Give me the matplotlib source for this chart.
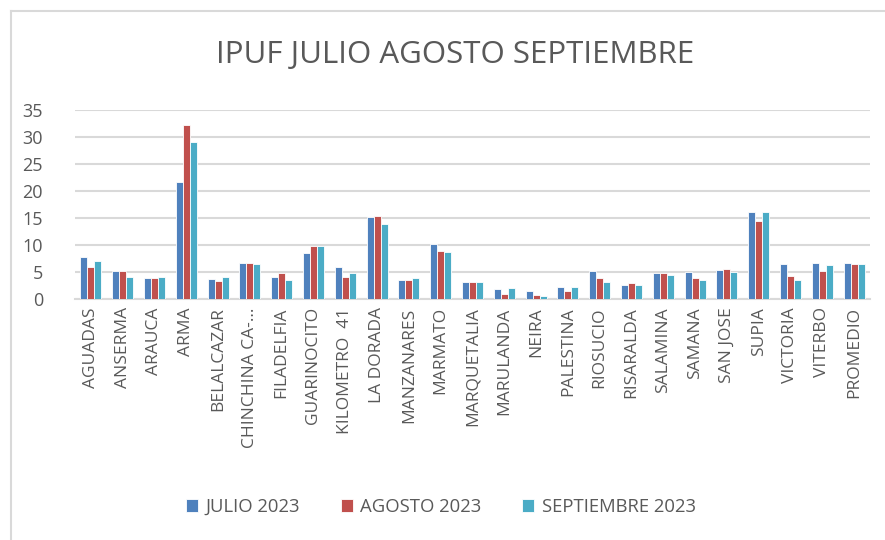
import matplotlib
matplotlib.use("Agg")
import matplotlib.pyplot as plt
import numpy as np
from matplotlib.lines import Line2D

categories = ["AGUADAS", "ANSERMA", "ARAUCA", "ARMA", "BELALCAZAR", "CHINCHINA CA-…",
              "FILADELFIA", "GUARINOCITO", "KILOMETRO  41", "LA DORADA", "MANZANARES",
              "MARMATO", "MARQUETALIA", "MARULANDA", "NEIRA", "PALESTINA", "RIOSUCIO",
              "RISARALDA", "SALAMINA", "SAMANA", "SAN JOSE", "SUPIA", "VICTORIA",
              "VITERBO", "PROMEDIO"]
julio = [7.8, 5.2, 3.8, 21.7, 3.7, 6.7, 4.1, 8.6, 5.9, 15.2, 3.5, 10.1, 3.2, 1.8, 1.4,
         2.3, 5.2, 2.6, 4.9, 5.0, 5.4, 16.2, 6.5, 6.7, 6.6]
agosto = [6.0, 5.2, 3.8, 32.2, 3.3, 6.7, 4.8, 9.8, 4.1, 15.4, 3.5, 8.8, 3.1, 0.9, 0.7,
          1.5, 3.9, 3.0, 4.8, 3.9, 5.6, 14.5, 4.3, 5.1, 6.5]
septiembre = [7.0, 4.1, 4.1, 29.1, 4.0, 6.5, 3.6, 9.9, 4.8, 13.9, 3.8, 8.7, 3.2, 2.0, 0.6,
              2.3, 3.2, 2.6, 4.4, 3.6, 5.0, 16.1, 3.6, 6.3, 6.4]
series_names = ["JULIO 2023", "AGOSTO 2023", "SEPTIEMBRE 2023"]
colors = ["#4F81BD", "#C0504D", "#4BACC6"]
yticks = [0, 5, 10, 15, 20, 25, 30, 35]

plt.rcParams['font.family'] = ['Open Sans', 'DejaVu Sans']
text_color = "#595959"

fig = plt.figure(figsize=(8.85, 5.4), dpi=100)
ax = fig.add_axes([75/885, 1-299/540, (870-75)/885, (299-110)/540])

x = np.arange(len(categories))
w = 0.22
for i, (vals, c, name) in enumerate(zip([julio, agosto, septiembre], colors, series_names)):
    ax.bar(x + (i-1)*w, vals, width=w, color=c, edgecolor="white", linewidth=0.6,
           label=name, zorder=3)

ax.set_xlim(-0.5, len(categories)-0.5)
ax.set_ylim(0, 35)
ax.set_yticks(yticks)
ax.set_yticklabels([str(t) for t in yticks], fontsize=13, color=text_color)
ax.yaxis.grid(True, color="#D9D9D9", linewidth=1.5, zorder=0)
ax.set_axisbelow(True)
ax.set_xticks(x)
ax.set_xticklabels(categories, rotation=90, fontsize=12.5, color=text_color, va='top', ha='center')
ax.tick_params(axis='both', length=0)
ax.tick_params(axis='y', pad=23)
ax.tick_params(axis='x', pad=6)
for s in ["top", "right", "left"]:
    ax.spines[s].set_visible(False)
ax.spines["bottom"].set_color("#D9D9D9")
ax.spines["bottom"].set_linewidth(1.5)

fig.text(455/885, 1-55/540, "IPUF JULIO AGOSTO SEPTIEMBRE", ha='center', va='center',
         fontsize=22.5, color=text_color)

leg = fig.legend(loc='center', bbox_to_anchor=(441/885, 1-507/540), ncol=3, frameon=False,
                 fontsize=13.3, handlelength=0.65, handleheight=0.65, handletextpad=0.4,
                 columnspacing=2.2)
for t in leg.get_texts():
    t.set_color(text_color)

fig.add_artist(Line2D([11/885, 11/885], [0, 1-11/540], transform=fig.transFigure,
                      color="#D9D9D9", linewidth=1.5))
fig.add_artist(Line2D([11/885, 1], [1-11/540, 1-11/540], transform=fig.transFigure,
                      color="#D9D9D9", linewidth=1.5))

fig.savefig("out.png", dpi=100)
